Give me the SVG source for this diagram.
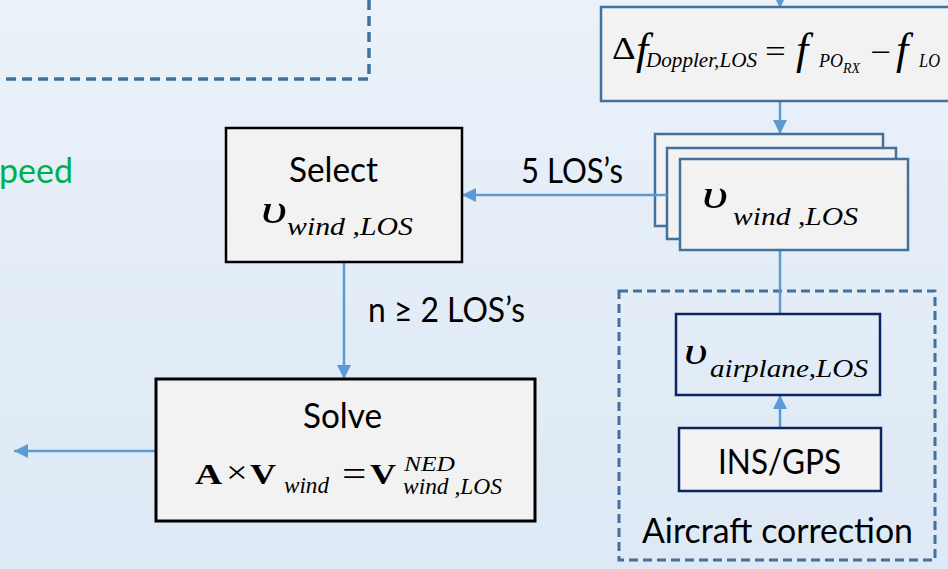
<svg xmlns="http://www.w3.org/2000/svg" width="948" height="569" viewBox="0 0 948 569">
  <defs>
    <linearGradient id="bg" x1="0" y1="0" x2="0" y2="1">
      <stop offset="0" stop-color="#eaf1f9"/>
      <stop offset="1" stop-color="#dde9f5"/>
    </linearGradient>
    <marker id="arrow" viewBox="0 0 10 10" refX="10" refY="5" markerUnits="userSpaceOnUse" markerWidth="15" markerHeight="14" orient="auto">
      <path d="M0,0 L10,5 L0,10 z" fill="#5b9bd5"/>
    </marker>
    <style>
      .sans { font-family: Lato, "Open Sans", "Liberation Sans", sans-serif; font-size: 35px; fill: #000; }
      .m { font-family: "Liberation Serif", "Times New Roman", serif; font-style: italic; fill: #000; }
      .mu { font-family: "Liberation Serif", "Times New Roman", serif; fill: #000; }
      .mb { font-family: "Liberation Serif", "Times New Roman", serif; font-weight: bold; fill: #000; }
      .box { fill: #f2f2f2; }
      .blue { stroke: #41719c; stroke-width: 2.5; }
      .black { stroke: #000; stroke-width: 2.5; }
      .navy { stroke: #0d2461; stroke-width: 2.5; }
      .dash { fill: none; stroke: #41719c; stroke-width: 3.5; stroke-dasharray: 10 6; }
      .conn { fill: none; stroke: #5b9bd5; stroke-width: 2.5; }
    </style>
  </defs>

  <rect x="0" y="0" width="948" height="569" fill="url(#bg)"/>

  <!-- dashed region running off the top-left corner -->
  <g id="region-topleft">
    <path class="dash" d="M-10,79 L369,79 L369,-10"/>
  </g>

  <!-- partially visible green label -->
  <g id="label-speed">
    <text class="sans" x="-1" y="183" style="fill:#00b050" textLength="74" lengthAdjust="spacingAndGlyphs">peed</text>
  </g>

  <!-- aircraft correction group -->
  <g id="group-aircraft">
    <rect class="dash" x="619" y="291" width="316" height="269" style="stroke-width:3;stroke-dasharray:9 5"/>
    <text class="sans" x="642" y="543" textLength="271" lengthAdjust="spacingAndGlyphs">Aircraft correction</text>
  </g>

  <g id="connectors">
    <line class="conn" x1="780" y1="-10" x2="780" y2="8" marker-end="url(#arrow)"/>
    <line class="conn" x1="780" y1="101" x2="780" y2="134" marker-end="url(#arrow)"/>
    <line class="conn" x1="780" y1="250" x2="780" y2="314"/>
    <line class="conn" x1="780" y1="428" x2="780" y2="395" marker-end="url(#arrow)"/>
    <line class="conn" x1="344" y1="262" x2="344" y2="379" marker-end="url(#arrow)"/>
    <line class="conn" x1="156" y1="451" x2="14" y2="451" marker-end="url(#arrow)"/>
  </g>

  <!-- Doppler shift formula -->
  <g id="node-doppler">
    <rect class="box blue" x="601" y="7" width="360" height="94"/>
    <text class="mu" transform="translate(612 59) scale(1.15 1)" font-size="32">Δ</text>
    <text class="m" x="636" y="64" font-size="44">f</text>
    <text class="m" x="646" y="67" font-size="20" textLength="111" lengthAdjust="spacingAndGlyphs">Doppler,LOS</text>
    <text class="mu" transform="translate(765 62) scale(1.15 1)" font-size="32">=</text>
    <text class="m" x="796" y="64" font-size="44">f</text>
    <text class="m" x="819" y="67" font-size="19" textLength="24" lengthAdjust="spacingAndGlyphs">PO</text>
    <text class="m" x="843" y="73" font-size="14" textLength="17" lengthAdjust="spacingAndGlyphs">RX</text>
    <text class="mu" transform="translate(870 63) scale(1.15 1)" font-size="32">−</text>
    <text class="m" x="896" y="64" font-size="44">f</text>
    <text class="m" x="919" y="67" font-size="19" textLength="21" lengthAdjust="spacingAndGlyphs">LO</text>
  </g>

  <!-- stacked per-LOS wind velocity boxes -->
  <g id="node-wind-los">
    <rect class="box blue" x="655" y="134" width="228" height="92"/>
    <rect class="box blue" x="667" y="148" width="229" height="91"/>
    <rect class="box blue" x="680" y="159" width="228" height="91"/>
    <text class="m" transform="translate(702 208) scale(1.35 1)" font-size="42">υ</text>
    <text class="m" x="733" y="225" font-size="25" textLength="125" lengthAdjust="spacingAndGlyphs">wind ,LOS</text>
  </g>

  <!-- connector from the stack to the select step, drawn over the back box -->
  <g id="connector-stack-select">
    <line class="conn" x1="667" y1="195" x2="462" y2="195" marker-end="url(#arrow)"/>
    <text class="sans" x="521" y="183" textLength="102" lengthAdjust="spacingAndGlyphs">5 LOS’s</text>
  </g>

  <g id="node-select">
    <rect class="box black" x="226" y="128" width="236" height="134"/>
    <text class="sans" x="289" y="182" textLength="89" lengthAdjust="spacingAndGlyphs">Select</text>
    <text class="m" transform="translate(261 223) scale(1.35 1)" font-size="42">υ</text>
    <text class="m" x="287" y="235" font-size="25" textLength="126" lengthAdjust="spacingAndGlyphs">wind ,LOS</text>
  </g>

  <g id="label-n-los">
    <text class="sans" x="368" y="322" textLength="157" lengthAdjust="spacingAndGlyphs">n ≥ 2 LOS’s</text>
  </g>

  <g id="node-solve">
    <rect class="box black" x="156" y="379" width="379" height="142" style="stroke-width:3"/>
    <text class="sans" x="303" y="428" textLength="79" lengthAdjust="spacingAndGlyphs">Solve</text>
    <text class="mb" transform="translate(195 484) scale(1.25 1)" font-size="30">A</text>
    <text class="mu" transform="translate(226 483) scale(1.2 1)" font-size="32">×</text>
    <text class="mb" transform="translate(250 484) scale(1.2 1)" font-size="30">V</text>
    <text class="m" x="284" y="493" font-size="23" textLength="45" lengthAdjust="spacingAndGlyphs">wind</text>
    <text class="mu" transform="translate(342 486) scale(1.2 1)" font-size="36">=</text>
    <text class="mb" transform="translate(370 484) scale(1.2 1)" font-size="30">V</text>
    <text class="m" x="404" y="471" font-size="21" textLength="51" lengthAdjust="spacingAndGlyphs">NED</text>
    <text class="m" x="403" y="494" font-size="23" textLength="99" lengthAdjust="spacingAndGlyphs">wind ,LOS</text>
  </g>

  <g id="node-airplane-los">
    <rect class="navy" fill="none" x="676" y="314" width="204" height="81"/>
    <text class="m" transform="translate(684 364) scale(1.35 1)" font-size="38">υ</text>
    <text class="m" x="710" y="377" font-size="25" textLength="158" lengthAdjust="spacingAndGlyphs">airplane,LOS</text>
  </g>

  <g id="node-insgps">
    <rect class="box navy" x="679" y="428" width="202" height="63"/>
    <text class="sans" x="718" y="474" textLength="123" lengthAdjust="spacingAndGlyphs">INS/GPS</text>
  </g>
</svg>
